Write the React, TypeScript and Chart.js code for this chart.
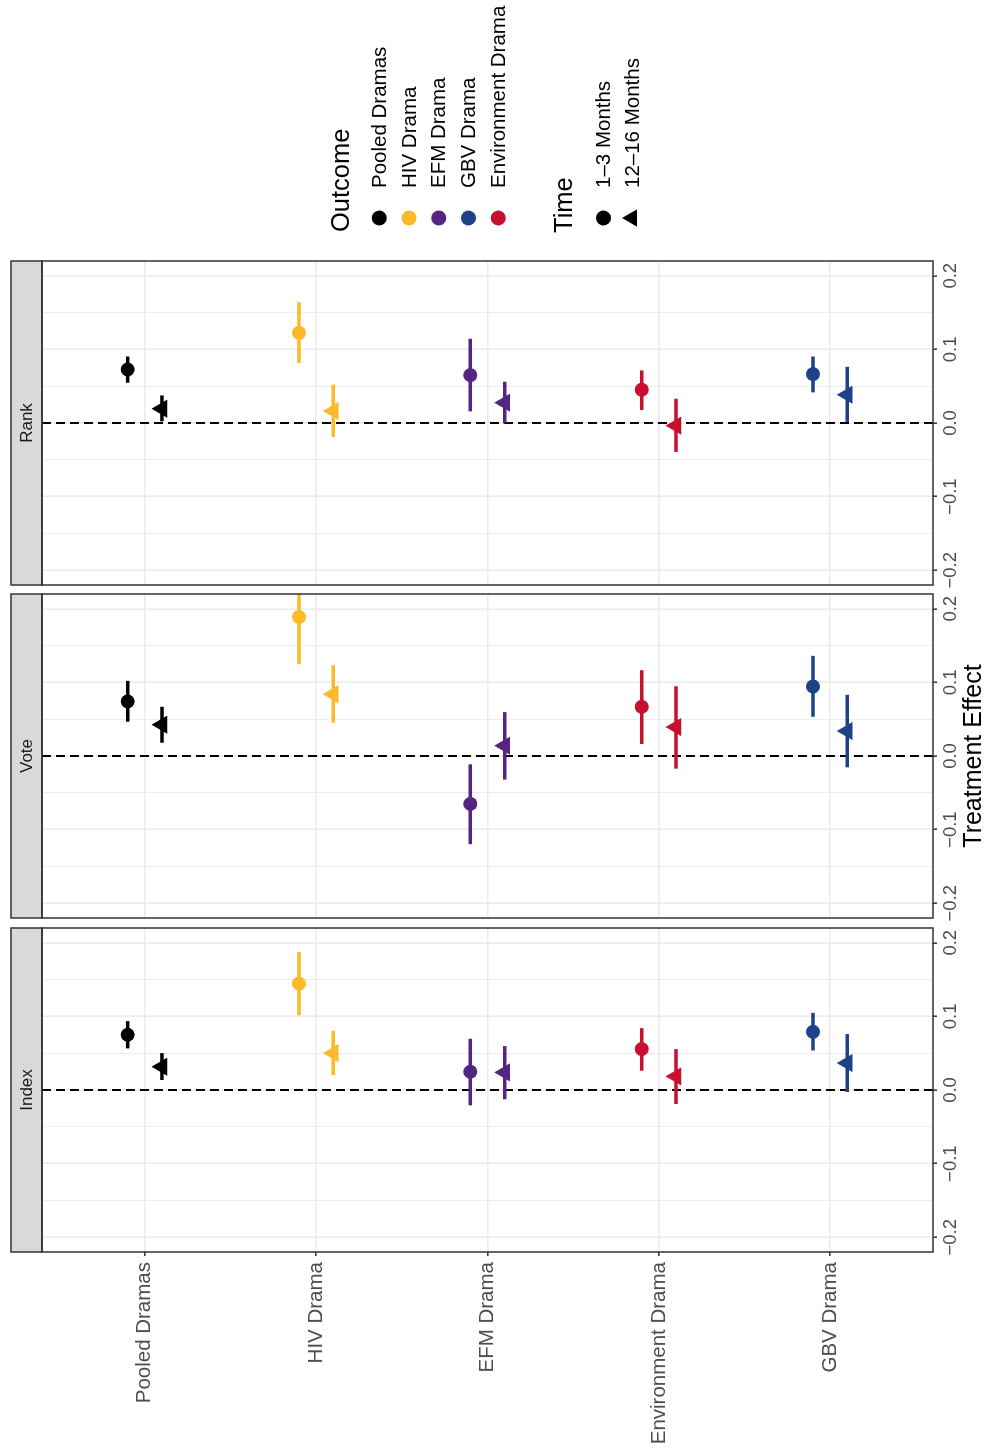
import React, { useEffect, useRef } from 'react';
import { Chart, registerables } from 'chart.js';
import { drawPoint } from 'chart.js/helpers';

Chart.register(...registerables);

// ---------------- data ----------------
const categories = ['Pooled Dramas', 'HIV Drama', 'EFM Drama', 'Environment Drama', 'GBV Drama'];
const categoryColors = ['#000000', '#FDB927', '#552583', '#C8102E', '#1D428A'];
const panelTitles = ['Index', 'Vote', 'Rank'];
const timeLabels = ['1–3 Months', '12–16 Months'];
const legendOutcomes = ['Pooled Dramas', 'HIV Drama', 'EFM Drama', 'GBV Drama', 'Environment Drama'];
const legendOutcomeColors = ['#000000', '#FDB927', '#552583', '#1D428A', '#C8102E'];
const xTickValues = [-0.2, -0.15, -0.1, -0.05, 0, 0.05, 0.1, 0.15, 0.2];
const xMin = -0.22;
const xMax = 0.22;
const axisTitle = 'Treatment Effect';

// Index
const indexShortEst = [0.075, 0.1445, 0.0248, 0.0556, 0.079];
const indexShortLo = [0.0565, 0.1016, -0.0208, 0.0262, 0.0537];
const indexShortHi = [0.0935, 0.1874, 0.0696, 0.084, 0.1048];
const indexLongEst = [0.0316, 0.0501, 0.0239, 0.0185, 0.0366];
const indexLongLo = [0.0136, 0.0203, -0.0126, -0.019, -0.0027];
const indexLongHi = [0.0501, 0.0804, 0.0596, 0.0556, 0.0759];

// Vote
const voteShortEst = [0.0741, 0.1888, -0.065, 0.0668, 0.0944];
const voteShortLo = [0.0465, 0.1247, -0.1197, 0.0163, 0.0533];
const voteShortHi = [0.102, 0.253, -0.0113, 0.1165, 0.136];
const voteLongEst = [0.0425, 0.084, 0.014, 0.0393, 0.0339];
const voteLongLo = [0.018, 0.0452, -0.0321, -0.0172, -0.0154];
const voteLongHi = [0.0668, 0.1233, 0.0596, 0.0948, 0.0831];

// Rank
const rankShortEst = [0.0727, 0.1224, 0.065, 0.0452, 0.0664];
const rankShortLo = [0.0547, 0.0813, 0.0158, 0.0176, 0.0416];
const rankShortHi = [0.0903, 0.164, 0.1143, 0.0714, 0.0903];
const rankLongEst = [0.0194, 0.0163, 0.0276, -0.0036, 0.0384];
const rankLongLo = [0.0023, -0.019, -0.0005, -0.0393, 0.001];
const rankLongHi = [0.0375, 0.052, 0.056, 0.033, 0.0763];

// ---------------- layout / style ----------------
const W = 1455;
const H = 989;
const FONT = "'Liberation Sans', Arial, Helvetica, sans-serif";
const DODGE = 0.1;
const GRID = '#EBEBEB';
const DARK = '#333333';
const TEXT_GREY = '#4D4D4D';

const isMajor = (v: number) => Math.abs(Math.round(v * 10) - v * 10) < 1e-6;
const fmt = (v: number) => (Math.abs(v) < 1e-9 ? '0.0' : v.toFixed(1)).replace('-', '\u2212');

type PanelSpec = {
  title: string;
  sEst: number[]; sLo: number[]; sHi: number[];
  lEst: number[]; lLo: number[]; lHi: number[];
  left: number; right: number;
  showY: boolean; showTitle: boolean; showLegend: boolean;
};

function legendPlugin() {
  return {
    id: 'ggLegend',
    afterDraw(chart: any) {
      const ctx = chart.ctx;
      ctx.save();
      ctx.fillStyle = '#000';
      ctx.textAlign = 'left';
      ctx.textBaseline = 'alphabetic';
      ctx.font = `25.5px ${FONT}`;
      ctx.fillText('Outcome', 1223, 348.5);
      legendOutcomes.forEach((name, i) => {
        const y = 379.3 + i * 29.75;
        ctx.fillStyle = legendOutcomeColors[i];
        drawPoint(ctx, { pointStyle: 'circle', radius: 7.5, rotation: 0, borderWidth: 0 } as any, 1237, y);
        ctx.fillStyle = '#000';
        ctx.font = `20.5px ${FONT}`;
        ctx.textBaseline = 'middle';
        ctx.fillText(name, 1267, y + 1);
        ctx.textBaseline = 'alphabetic';
      });
      ctx.font = `25.5px ${FONT}`;
      ctx.fillText('Time', 1222, 571.5);
      timeLabels.forEach((name, i) => {
        const y = 603.5 + i * 28.4;
        ctx.fillStyle = '#000';
        drawPoint(
          ctx,
          { pointStyle: i === 0 ? 'circle' : 'triangle', radius: i === 0 ? 7.5 : 10, rotation: 0, borderWidth: 0 } as any,
          1237,
          y
        );
        ctx.font = `20.5px ${FONT}`;
        ctx.textBaseline = 'middle';
        ctx.fillText(name, 1267, y + 1);
        ctx.textBaseline = 'alphabetic';
      });
      ctx.restore();
    },
  };
}

function framePlugin(title: string) {
  return {
    id: 'ggFrame',
    afterDraw(chart: any) {
      const { ctx, chartArea } = chart;
      const { left, right, top, bottom } = chartArea;
      ctx.save();
      // strip
      const stripTop = 11;
      ctx.fillStyle = '#D9D9D9';
      ctx.fillRect(left, stripTop, right - left, top - stripTop);
      ctx.strokeStyle = DARK;
      ctx.lineWidth = 1.5;
      ctx.strokeRect(left, stripTop, right - left, top - stripTop);
      ctx.fillStyle = '#1A1A1A';
      ctx.font = `17px ${FONT}`;
      ctx.textAlign = 'center';
      ctx.textBaseline = 'middle';
      ctx.fillText(title, (left + right) / 2, (stripTop + top) / 2 + 1);
      // panel border
      ctx.strokeStyle = DARK;
      ctx.lineWidth = 1.5;
      ctx.strokeRect(left, top, right - left, bottom - top);
      ctx.restore();
    },
  };
}

function buildConfig(p: PanelSpec): any {
  const datasets: any[] = [];
  // reference line at zero
  datasets.push({
    data: [{ x: 0, y: 0.4 }, { x: 0, y: 5.6 }],
    showLine: true,
    borderColor: '#000',
    borderWidth: 2,
    borderDash: [9, 5],
    pointRadius: 0,
    order: 3,
    clip: 0,
  });
  categories.forEach((_, i) => {
    datasets.push({
      data: [{ x: p.sLo[i], y: i + 1 - DODGE }, { x: p.sHi[i], y: i + 1 - DODGE }],
      showLine: true,
      borderColor: categoryColors[i],
      borderWidth: 3.5,
      pointRadius: 0,
      order: 2,
      clip: 0,
    });
    datasets.push({
      data: [{ x: p.lLo[i], y: i + 1 + DODGE }, { x: p.lHi[i], y: i + 1 + DODGE }],
      showLine: true,
      borderColor: categoryColors[i],
      borderWidth: 3.5,
      pointRadius: 0,
      order: 2,
      clip: 0,
    });
  });
  datasets.push({
    label: timeLabels[0],
    data: p.sEst.map((v, i) => ({ x: v, y: i + 1 - DODGE })),
    pointStyle: 'circle',
    pointRadius: 7,
    pointBackgroundColor: categoryColors,
    pointBorderWidth: 0,
    order: 1,
    clip: 0,
  });
  datasets.push({
    label: timeLabels[1],
    data: p.lEst.map((v, i) => ({ x: v, y: i + 1 + DODGE })),
    pointStyle: 'triangle',
    pointRadius: 10.5,
    pointBackgroundColor: categoryColors,
    pointBorderWidth: 0,
    order: 1,
    clip: 0,
  });

  const plugins: any[] = [framePlugin(p.title)];
  if (p.showLegend) plugins.push(legendPlugin());

  return {
    type: 'scatter',
    data: { datasets },
    plugins,
    options: {
      responsive: false,
      animation: false,
      events: [],
      layout: { padding: { top: 42, bottom: 0, left: p.left, right: W - p.right } },
      plugins: { legend: { display: false }, tooltip: { enabled: false } },
      scales: {
        x: {
          type: 'linear',
          position: 'bottom',
          min: xMin,
          max: xMax,
          afterBuildTicks: (s: any) => {
            s.ticks = xTickValues.map((v) => ({ value: v }));
          },
          afterFit: (s: any) => {
            s.height = 56;
            s.paddingLeft = 0;
            s.paddingRight = 0;
          },
          ticks: {
            autoSkip: false,
            maxRotation: 0,
            minRotation: 0,
            padding: 3,
            color: TEXT_GREY,
            font: { family: FONT, size: 18.5 },
            callback: (v: number) => (isMajor(v) ? fmt(v) : ''),
          },
          grid: {
            color: GRID,
            lineWidth: (c: any) => (c.tick && isMajor(c.tick.value) ? 1.6 : 0.9),
            tickLength: 4,
            tickWidth: 1.5,
            tickColor: (c: any) => (c.tick && isMajor(c.tick.value) ? DARK : 'rgba(0,0,0,0)'),
          },
          border: { display: false },
          title: {
            display: p.showTitle,
            text: axisTitle,
            color: '#000',
            font: { family: FONT, size: 25 },
            padding: 0,
          },
        },
        y: {
          type: 'linear',
          min: 0.4,
          max: 5.6,
          reverse: true,
          afterBuildTicks: (s: any) => {
            s.ticks = categories.map((_, i) => ({ value: i + 1 }));
          },
          afterFit: (s: any) => {
            s.width = p.showY ? p.left === 0 ? 203 : 0 : 0;
          },
          ticks: {
            display: p.showY,
            autoSkip: false,
            padding: 6,
            color: TEXT_GREY,
            font: { family: FONT, size: 20.5 },
            callback: (v: number) => categories[Math.round(v) - 1],
          },
          grid: {
            color: GRID,
            lineWidth: 1.6,
            drawTicks: p.showY,
            tickLength: 4,
            tickWidth: 1.5,
            tickColor: DARK,
          },
          border: { display: false },
        },
      },
    },
  };
}

const panels: PanelSpec[] = [
  {
    title: panelTitles[0],
    sEst: indexShortEst, sLo: indexShortLo, sHi: indexShortHi,
    lEst: indexLongEst, lLo: indexLongLo, lHi: indexLongHi,
    left: 0, right: 527, showY: true, showTitle: false, showLegend: false,
  },
  {
    title: panelTitles[1],
    sEst: voteShortEst, sLo: voteShortLo, sHi: voteShortHi,
    lEst: voteLongEst, lLo: voteLongLo, lHi: voteLongHi,
    left: 537, right: 861, showY: false, showTitle: true, showLegend: false,
  },
  {
    title: panelTitles[2],
    sEst: rankShortEst, sLo: rankShortLo, sHi: rankShortHi,
    lEst: rankLongEst, lLo: rankLongLo, lHi: rankLongHi,
    left: 870, right: 1194, showY: false, showTitle: false, showLegend: true,
  },
];

export default function App() {
  const r0 = useRef<HTMLCanvasElement>(null);
  const r1 = useRef<HTMLCanvasElement>(null);
  const r2 = useRef<HTMLCanvasElement>(null);

  useEffect(() => {
    const refs = [r0, r1, r2];
    const charts = refs.map((r, i) => new Chart(r.current as HTMLCanvasElement, buildConfig(panels[i])));
    return () => charts.forEach((c) => c.destroy());
  }, []);

  const canvasStyle: React.CSSProperties = { position: 'absolute', left: 0, top: 0, width: W, height: H };

  return (
    <div
      style={{
        position: 'fixed',
        left: 0,
        top: 0,
        width: W,
        height: H,
        background: '#ffffff',
        transformOrigin: '0 0',
        transform: `translateY(${W}px) rotate(-90deg)`,
      }}
    >
      <canvas ref={r0} width={W} height={H} style={canvasStyle} />
      <canvas ref={r1} width={W} height={H} style={canvasStyle} />
      <canvas ref={r2} width={W} height={H} style={canvasStyle} />
    </div>
  );
}
